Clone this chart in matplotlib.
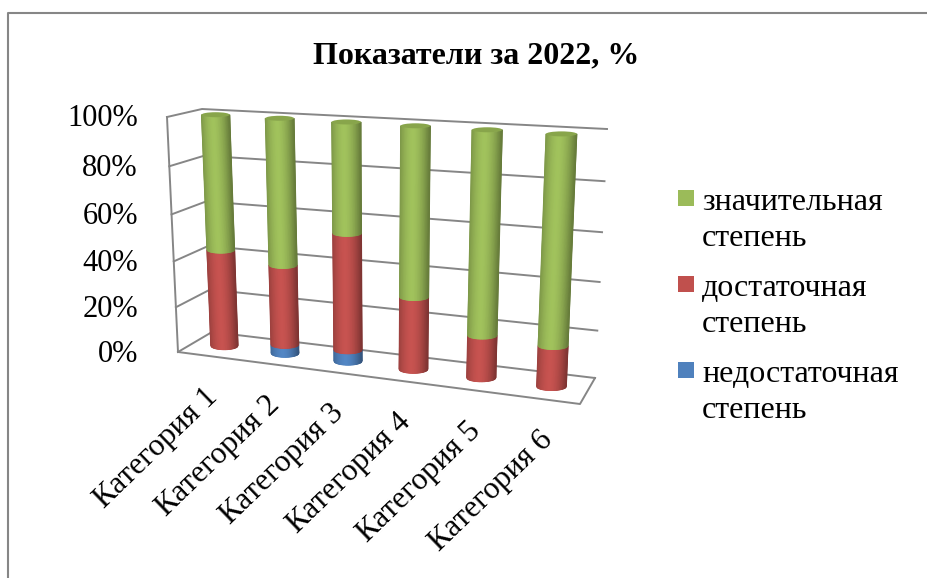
import numpy as np
import matplotlib.pyplot as plt
from matplotlib.colors import LinearSegmentedColormap, to_rgb
from matplotlib.patches import Ellipse, Rectangle

plt.rcParams['font.family'] = ['Liberation Serif', 'DejaVu Serif']

# Данные
categories = ['Категория 1', 'Категория 2', 'Категория 3', 'Категория 4', 'Категория 5', 'Категория 6']
nedostatochnaya = [0, 4, 5, 0, 0, 0]
dostatochnaya = [43, 35, 50, 31, 18, 17]
znachitelnaya = [57, 61, 45, 69, 82, 83]
y_ticks = [0, 20, 40, 60, 80, 100]
legend_labels = ['значительная\nстепень', 'достаточная\nстепень', 'недостаточная\nстепень']

GREEN = '#9BBB59'
RED = '#C0504D'
BLUE = '#4F81BD'
GRID = '#868686'

# углы "коробки" диаграммы в пикселях картинки
FL0, FR0, BL0, BR0 = map(np.array, [(178, 352), (580, 404), (212, 332), (595, 378)])
FL1, FR1, BL1, BR1 = map(np.array, [(167, 117), (592, 143), (202, 109), (607, 129)])


def project(u, v, pct):
    h = pct / 100
    h = h - 0.06 * h * (1 - h)
    floor = (1 - v) * ((1 - u) * FL0 + u * FR0) + v * ((1 - u) * BL0 + u * BR0)
    top = (1 - v) * ((1 - u) * FL1 + u * FR1) + v * ((1 - u) * BL1 + u * BR1)
    return (1 - h) * floor + h * top


def category_u(i):
    # перспектива: левые категории чуть сжаты
    u = (i + 0.5) / len(categories)
    return u - 0.11 * u * (1 - u)


def make_cmap(color):
    xs = np.linspace(-1, 1, 41)
    f = 1.04 - 0.30 * np.abs(xs + 0.15) ** 1.8
    rgb = np.clip(np.outer(f, to_rgb(color)), 0, 1)
    return LinearSegmentedColormap.from_list('cyl', rgb)


def draw_segment(ax, u, start, end, color):
    xs = np.linspace(-1, 1, 41)
    c0, c1 = project(u, 0.5, start), project(u, 0.5, end)
    rx0, rx1 = 13.5 + 1.5 * u + 0.5 * start / 100, 13.5 + 1.5 * u + 0.5 * end / 100
    ry0, ry1 = 4 - 1.5 * start / 100, 4 - 1.5 * end / 100
    arc = np.sqrt(1 - xs ** 2)
    X = np.vstack([c0[0] + rx0 * xs, c1[0] + rx1 * xs])
    Y = np.vstack([c0[1] + ry0 * arc, c1[1] + ry1 * arc])
    C = np.vstack([xs, xs])
    ax.pcolormesh(X, Y, C, shading='gouraud', cmap=make_cmap(color), vmin=-1, vmax=1, zorder=3)


fig = plt.figure(figsize=(9.27, 5.78), dpi=100)
ax = fig.add_axes([0, 0, 1, 1])
ax.set_xlim(0, 927)
ax.set_ylim(578, 0)
ax.axis('off')

# рамка области диаграммы
ax.plot([8, 8, 927], [578, 13, 13], color=GRID, linewidth=1.5, zorder=1)

ax.text(476, 56, 'Показатели за 2022, %', fontsize=23, fontweight='bold',
        ha='center', va='center')

# сетка на стенках
for t in y_ticks:
    a, b, c = project(0, 0, t), project(0, 1, t), project(1, 1, t)
    ax.plot([a[0], b[0], c[0]], [a[1], b[1], c[1]], color=GRID, linewidth=1.4, zorder=2)
    ax.text(138, a[1] + 2, f'{t}%', fontsize=22, ha='right', va='center')

# вертикаль и передний край пола
a, b = project(0, 0, 0), project(0, 0, 100)
ax.plot([a[0], b[0]], [a[1], b[1]], color=GRID, linewidth=1.4, zorder=2)
a, b, c = project(0, 0, 0), project(1, 0, 0), project(1, 1, 0)
ax.plot([a[0], b[0], c[0]], [a[1], b[1], c[1]], color=GRID, linewidth=1.4, zorder=2)

# цилиндры
for i, name in enumerate(categories):
    u = category_u(i)
    b0 = nedostatochnaya[i]
    b1 = b0 + dostatochnaya[i]
    b2 = b1 + znachitelnaya[i]
    if nedostatochnaya[i] > 0:
        draw_segment(ax, u, 0, b0, BLUE)
    draw_segment(ax, u, b0, b1, RED)
    draw_segment(ax, u, b1, b2, GREEN)
    top = project(u, 0.5, b2)
    ax.add_patch(Ellipse(top, 2 * (14 + 1.5 * u), 5, facecolor='#88A54B', edgecolor='none', zorder=4))

    front = project(u, 0, 0)
    ax.text(front[0] + 5, front[1] + 37, name, fontsize=22.5, rotation=44,
            rotation_mode='anchor', ha='right', va='center')

# легенда
legend_y = [190, 276, 362]
for y, col, label in zip(legend_y, [GREEN, RED, BLUE], legend_labels):
    ax.add_patch(Rectangle((678, y), 16, 16, facecolor=col, edgecolor='none'))
    ax.text(702, y + 30.5, label, fontsize=23, ha='left', va='center', linespacing=1.28)

plt.savefig('out.png', dpi=100)
